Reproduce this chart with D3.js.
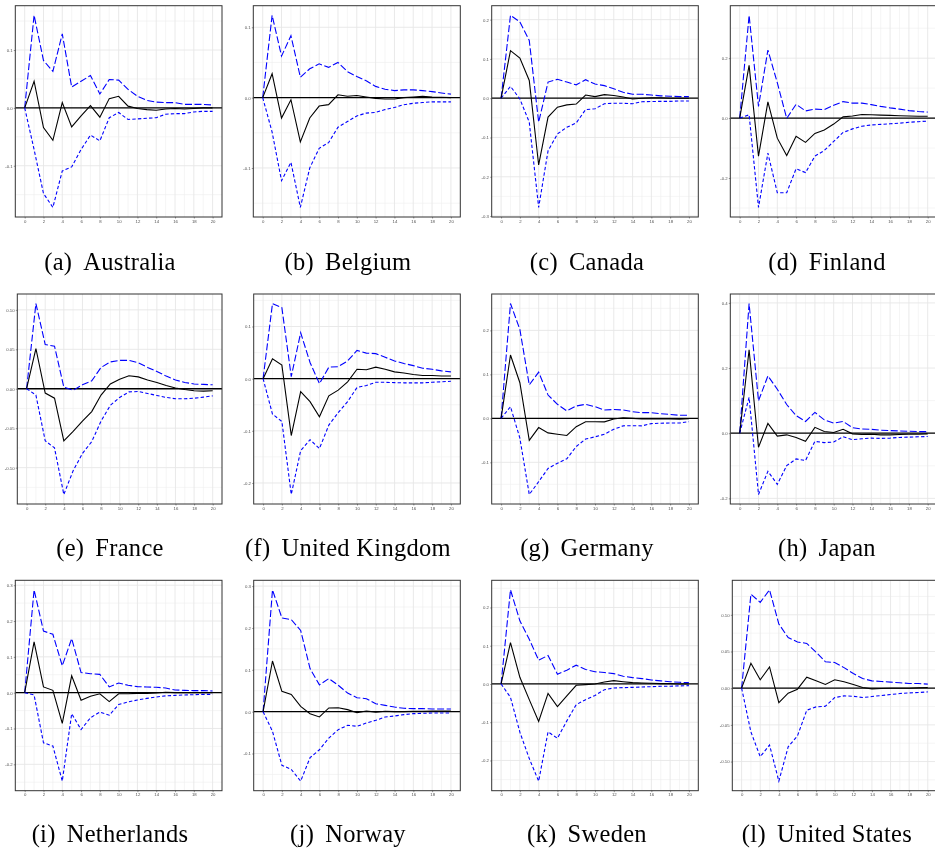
<!DOCTYPE html>
<html><head><meta charset="utf-8">
<script src="https://cdn.jsdelivr.net/npm/d3@7"></script>
<style>body{margin:0;background:#fff}svg{display:block;will-change:transform}.tick text{opacity:0.99}</style>
</head><body><svg id="c" width="935" height="853"></svg>
<script>
const horizons = [0,1,2,3,4,5,6,7,8,9,10,11,12,13,14,15,16,17,18,19,20];
const xTickLabels = ["0","2","4","6","8","10","12","14","16","18","20"];
const countries = ["Australia","Belgium","Canada","Finland","France","United Kingdom","Germany","Japan","Netherlands","Norway","Sweden","United States"];
const captionLabels = ["(a)","(b)","(c)","(d)","(e)","(f)","(g)","(h)","(i)","(j)","(k)","(l)"];

const australiaIrf   = [0,0.046,-0.034,-0.056,0.009,-0.033,-0.014,0.004,-0.016,0.016,0.020,0.003,-0.001,-0.003,-0.004,-0.002,-0.001,-0.002,-0.001,0,0];
const australiaUpper = [0,0.160,0.082,0.063,0.128,0.036,0.046,0.056,0.024,0.049,0.048,0.032,0.020,0.013,0.010,0.009,0.009,0.006,0.006,0.006,0.005];
const australiaLower = [0,-0.072,-0.148,-0.172,-0.109,-0.102,-0.072,-0.047,-0.057,-0.017,-0.008,-0.020,-0.019,-0.018,-0.017,-0.011,-0.010,-0.010,-0.007,-0.006,-0.006];

const belgiumIrf   = [0,0.034,-0.029,-0.003,-0.063,-0.029,-0.012,-0.010,0.004,0.002,0.003,0.001,-0.001,-0.002,-0.002,0,0.001,0.002,0.001,0.0005,0];
const belgiumUpper = [0,0.117,0.059,0.088,0.029,0.041,0.048,0.043,0.050,0.037,0.030,0.024,0.016,0.012,0.010,0.011,0.011,0.010,0.0085,0.0066,0.005];
const belgiumLower = [0,-0.049,-0.118,-0.092,-0.156,-0.100,-0.072,-0.064,-0.042,-0.034,-0.026,-0.022,-0.021,-0.017,-0.014,-0.010,-0.008,-0.007,-0.006,-0.006,-0.006];

const canadaIrf   = [0,0.121,0.102,0.045,-0.170,-0.048,-0.023,-0.017,-0.015,0.008,0.004,0.009,0.007,0.003,-0.002,0,0.001,0.001,0,0,0];
const canadaUpper = [0,0.211,0.194,0.147,-0.061,0.041,0.048,0.041,0.034,0.047,0.036,0.032,0.024,0.015,0.010,0.010,0.008,0.006,0.005,0.004,0.004];
const canadaLower = [0,0.030,-0.002,-0.061,-0.278,-0.134,-0.091,-0.074,-0.063,-0.029,-0.027,-0.014,-0.013,-0.013,-0.014,-0.009,-0.0085,-0.008,-0.008,-0.007,-0.007];

const finlandIrf   = [0,0.176,-0.127,0.054,-0.067,-0.125,-0.061,-0.081,-0.051,-0.040,-0.020,0.004,0.007,0.012,0.011,0.010,0.009,0.008,0.007,0.006,0.006];
const finlandUpper = [0,0.343,0.039,0.227,0.118,-0.001,0.046,0.024,0.030,0.028,0.043,0.055,0.050,0.050,0.045,0.039,0.034,0.030,0.025,0.022,0.020];
const finlandLower = [0,0.011,-0.298,-0.117,-0.249,-0.249,-0.169,-0.182,-0.127,-0.108,-0.078,-0.048,-0.036,-0.027,-0.023,-0.021,-0.019,-0.017,-0.014,-0.012,-0.010];

const franceIrf   = [0,0.051,-0.0055,-0.012,-0.066,-0.054,-0.041,-0.029,-0.008,0.006,0.012,0.0165,0.015,0.011,0.008,0.004,0.001,-0.001,-0.0025,-0.003,-0.0025];
const franceUpper = [0,0.108,0.056,0.054,0.002,-0.002,0.005,0.010,0.027,0.034,0.036,0.036,0.033,0.027,0.022,0.016,0.011,0.008,0.006,0.0055,0.005];
const franceLower = [0,-0.008,-0.066,-0.075,-0.134,-0.104,-0.082,-0.067,-0.041,-0.021,-0.011,-0.004,-0.0035,-0.006,-0.0085,-0.011,-0.0127,-0.0127,-0.012,-0.0106,-0.009];

const ukIrf   = [0,0.038,0.026,-0.109,-0.025,-0.044,-0.073,-0.033,-0.022,-0.006,0.018,0.017,0.022,0.018,0.013,0.011,0.008,0.006,0.006,0.005,0.005];
const ukUpper = [0,0.144,0.136,0.004,0.088,0.031,-0.0095,0.022,0.023,0.034,0.054,0.049,0.048,0.041,0.034,0.029,0.025,0.020,0.018,0.015,0.013];
const ukLower = [0,-0.068,-0.082,-0.222,-0.138,-0.117,-0.134,-0.089,-0.065,-0.044,-0.017,-0.013,-0.007,-0.007,-0.0076,-0.008,-0.008,-0.008,-0.007,-0.006,-0.005];

const germanyIrf   = [0,0.144,0.081,-0.050,-0.021,-0.033,-0.036,-0.039,-0.019,-0.0076,-0.0076,-0.008,-0.0015,0.0015,0,-0.0015,-0.001,-0.0015,-0.0015,-0.002,-0.001];
const germanyUpper = [0,0.261,0.202,0.076,0.105,0.053,0.032,0.017,0.028,0.032,0.0265,0.019,0.020,0.019,0.015,0.013,0.013,0.0106,0.009,0.007,0.007];
const germanyLower = [0,0.0265,-0.045,-0.173,-0.144,-0.114,-0.102,-0.092,-0.064,-0.047,-0.042,-0.036,-0.025,-0.017,-0.0167,-0.017,-0.012,-0.011,-0.0106,-0.0106,-0.0076];

const japanIrf   = [0,0.256,-0.043,0.030,-0.009,-0.005,-0.013,-0.025,0.018,0.005,0.002,0.012,-0.002,-0.004,-0.003,-0.005,-0.005,-0.004,-0.003,-0.003,-0.002];
const japanUpper = [0,0.398,0.0995,0.176,0.135,0.088,0.054,0.036,0.064,0.041,0.031,0.036,0.017,0.013,0.012,0.009,0.008,0.007,0.006,0.005,0.005];
const japanLower = [0,0.110,-0.188,-0.117,-0.157,-0.0995,-0.079,-0.084,-0.025,-0.029,-0.027,-0.011,-0.020,-0.017,-0.015,-0.016,-0.015,-0.013,-0.012,-0.011,-0.010];

const netherlandsIrf   = [0,0.142,0.016,0.0065,-0.086,0.047,-0.021,-0.010,-0.003,-0.025,-0.003,-0.003,-0.002,-0.002,-0.001,0.001,0,0,0,0,0];
const netherlandsUpper = [0,0.287,0.172,0.163,0.075,0.151,0.056,0.053,0.051,0.016,0.027,0.0205,0.0168,0.016,0.015,0.013,0.0075,0.0065,0.0056,0.0056,0.0047];
const netherlandsLower = [0,-0.0065,-0.140,-0.149,-0.247,-0.059,-0.103,-0.070,-0.054,-0.063,-0.033,-0.026,-0.0205,-0.016,-0.012,-0.009,-0.0075,-0.0065,-0.0056,-0.0047,-0.0047];

const norwayIrf   = [0,0.121,0.0485,0.041,0.0127,-0.005,-0.0127,0.0088,0.0095,0.0048,-0.0024,0.0016,-0.001,0.001,0,0,0.001,0.001,0.0016,0.0016,0.0016];
const norwayUpper = [0,0.291,0.224,0.220,0.194,0.103,0.064,0.079,0.063,0.0445,0.0334,0.031,0.019,0.015,0.011,0.008,0.0072,0.0072,0.0064,0.0064,0.0064];
const norwayLower = [0,-0.047,-0.128,-0.138,-0.166,-0.110,-0.091,-0.063,-0.043,-0.0326,-0.035,-0.027,-0.0207,-0.0127,-0.0103,-0.007,-0.0048,-0.004,-0.0032,-0.0032,-0.0032];

const swedenIrf   = [0,0.108,0.0175,-0.041,-0.098,-0.0246,-0.059,-0.031,-0.0035,-0.0018,0,0.005,0.0088,0.006,0.0035,0.0026,0.0018,0.0009,0.0009,0,0];
const swedenUpper = [0,0.246,0.165,0.117,0.062,0.0746,0.0254,0.036,0.049,0.038,0.032,0.030,0.027,0.020,0.0167,0.014,0.0105,0.008,0.006,0.0044,0.0035];
const swedenLower = [0,-0.035,-0.126,-0.195,-0.254,-0.125,-0.142,-0.0965,-0.054,-0.041,-0.030,-0.015,-0.0105,-0.0096,-0.0088,-0.008,-0.007,-0.006,-0.006,-0.005,-0.0044];

const usIrf   = [0,0.034,0.0114,0.029,-0.0196,-0.0068,-0.0014,0.015,0.010,0.005,0.0114,0.0087,0.005,0.0009,-0.0009,-0.0005,0,0,0,0.0005,0.0009];
const usUpper = [0,0.128,0.117,0.134,0.0875,0.069,0.063,0.061,0.049,0.036,0.035,0.028,0.020,0.0132,0.010,0.0091,0.0082,0.0073,0.0064,0.0064,0.0055];
const usLower = [0,-0.0597,-0.0934,-0.0775,-0.1267,-0.080,-0.065,-0.030,-0.0255,-0.0246,-0.0128,-0.0105,-0.011,-0.0128,-0.0114,-0.010,-0.0087,-0.0073,-0.0064,-0.0059,-0.005];

const yTickLabels = [
  ["0.1","0.0","-0.1"],
  ["0.1","0.0","-0.1"],
  ["0.2","0.1","0.0","-0.1","-0.2","-0.3"],
  ["0.2","0.0","-0.2"],
  ["0.10","0.05","0.00","-0.05","-0.10"],
  ["0.1","0.0","-0.1","-0.2"],
  ["0.2","0.1","0.0","-0.1"],
  ["0.4","0.2","0.0","-0.2"],
  ["0.3","0.2","0.1","0.0","-0.1","-0.2"],
  ["0.3","0.2","0.1","0.0","-0.1"],
  ["0.2","0.1","0.0","-0.1","-0.2"],
  ["0.10","0.05","0.00","-0.05","-0.10"]
];

const irfSeries   = [australiaIrf,belgiumIrf,canadaIrf,finlandIrf,franceIrf,ukIrf,germanyIrf,japanIrf,netherlandsIrf,norwayIrf,swedenIrf,usIrf];
const upperSeries = [australiaUpper,belgiumUpper,canadaUpper,finlandUpper,franceUpper,ukUpper,germanyUpper,japanUpper,netherlandsUpper,norwayUpper,swedenUpper,usUpper];
const lowerSeries = [australiaLower,belgiumLower,canadaLower,finlandLower,franceLower,ukLower,germanyLower,japanLower,netherlandsLower,norwayLower,swedenLower,usLower];

// layout
const frameLeft = [15.3,253.3,491.7,730.3, 17.3,253.7,491.7,730.3, 15.3,253.7,491.7,732.3];
const colRight = [222,460.3,698.3,937.1];
const rowTop = [5.7,294,580.3];
const rowBottom = [217,504,790.7];
const captionX = [110,348,587,827];
const captionY = [270,556,842];

const svg = d3.select("#c");
svg.append("rect").attr("width", 935).attr("height", 853).attr("fill", "#fff");

countries.forEach((name, i) => {
  const col = i % 4, row = Math.floor(i / 4);
  const L = frameLeft[i], R = colRight[col], T = rowTop[row], B = rowBottom[row];
  const all = irfSeries[i].concat(upperSeries[i], lowerSeries[i], [0]);
  const lo = d3.min(all), hi = d3.max(all), pad = (hi - lo) * 0.05;
  const x = d3.scaleLinear().domain([-1, 21]).range([L, R]);
  const y = d3.scaleLinear().domain([lo - pad, hi + pad]).range([B, T]);

  const g = svg.append("g");
  const clipId = "clip" + i;
  g.append("clipPath").attr("id", clipId).append("rect")
    .attr("x", L).attr("y", T).attr("width", R - L).attr("height", B - T);

  const majors = yTickLabels[i].map(s => +s);
  const step = Math.abs(majors[0] - majors[1]);
  const minors = [];
  const mMax = d3.max(majors), mMin = d3.min(majors);
  for (let v = mMin - step / 2; v <= mMax + step / 2 + 1e-9; v += step) {
    if (v > lo - pad && v < hi + pad) minors.push(v);
  }

  const grid = g.append("g").attr("clip-path", `url(#${clipId})`);
  grid.selectAll("line.ymin").data(minors).join("line")
    .attr("x1", L).attr("x2", R).attr("y1", d => y(d)).attr("y2", d => y(d))
    .attr("stroke", "#efefef").attr("stroke-width", 0.6);
  grid.selectAll("line.xmin").data(horizons.filter(h => h % 2 === 1)).join("line")
    .attr("y1", T).attr("y2", B).attr("x1", d => x(d)).attr("x2", d => x(d))
    .attr("stroke", "#efefef").attr("stroke-width", 0.6);
  grid.selectAll("line.ymaj").data(majors).join("line")
    .attr("x1", L).attr("x2", R).attr("y1", d => y(d)).attr("y2", d => y(d))
    .attr("stroke", "#e6e6e6").attr("stroke-width", 0.9);
  grid.selectAll("line.xmaj").data(xTickLabels.map(s => +s)).join("line")
    .attr("y1", T).attr("y2", B).attr("x1", d => x(d)).attr("x2", d => x(d))
    .attr("stroke", "#e6e6e6").attr("stroke-width", 0.9);

  const plot = g.append("g").attr("clip-path", `url(#${clipId})`);
  const line = arr => d3.line().x((d, k) => x(horizons[k])).y(d => y(d))(arr);

  plot.append("line").attr("x1", L).attr("x2", R).attr("y1", y(0)).attr("y2", y(0))
    .attr("stroke", "#000").attr("stroke-width", 1.3);
  plot.append("path").attr("d", line(upperSeries[i])).attr("fill", "none")
    .attr("stroke", "#0000ff").attr("stroke-width", 1.1).attr("stroke-dasharray", "7,2.5");
  plot.append("path").attr("d", line(lowerSeries[i])).attr("fill", "none")
    .attr("stroke", "#0000ff").attr("stroke-width", 1.1).attr("stroke-dasharray", "3.4,2.2");
  plot.append("path").attr("d", line(irfSeries[i])).attr("fill", "none")
    .attr("stroke", "#000").attr("stroke-width", 1.1);

  g.append("rect").attr("x", L).attr("y", T).attr("width", R - L).attr("height", B - T)
    .attr("fill", "none").attr("stroke", "#333").attr("stroke-width", 1);

  const xAxis = d3.axisBottom(x).tickValues(xTickLabels.map(s => +s)).tickSize(1.5).tickPadding(1.2)
    .tickFormat((d, k) => xTickLabels[k]);
  const ax = g.append("g").attr("transform", `translate(0,${B})`).call(xAxis);
  const yAxis = d3.axisLeft(y).tickValues(majors).tickSize(1.5).tickPadding(1.2)
    .tickFormat((d, k) => yTickLabels[i][k]);
  const ay = g.append("g").attr("transform", `translate(${L},0)`).call(yAxis);
  [ax, ay].forEach(a => {
    a.select(".domain").remove();
    a.selectAll(".tick line").attr("stroke", "#333").attr("stroke-width", 0.5);
    a.selectAll(".tick text").attr("fill", "#4d4d4d").attr("font-size", 4.3)
      .attr("font-family", "Liberation Sans, Arial, sans-serif");
  });

  const cap = svg.append("text").attr("x", captionX[col]).attr("y", captionY[row])
    .attr("text-anchor", "middle").attr("font-family", "Liberation Serif, DejaVu Serif, serif")
    .attr("font-size", 24.5).attr("letter-spacing", 0.3).attr("fill", "#000");
  cap.append("tspan").text(captionLabels[i]);
  cap.append("tspan").attr("dx", 11).text(name);
});
</script></body></html>
